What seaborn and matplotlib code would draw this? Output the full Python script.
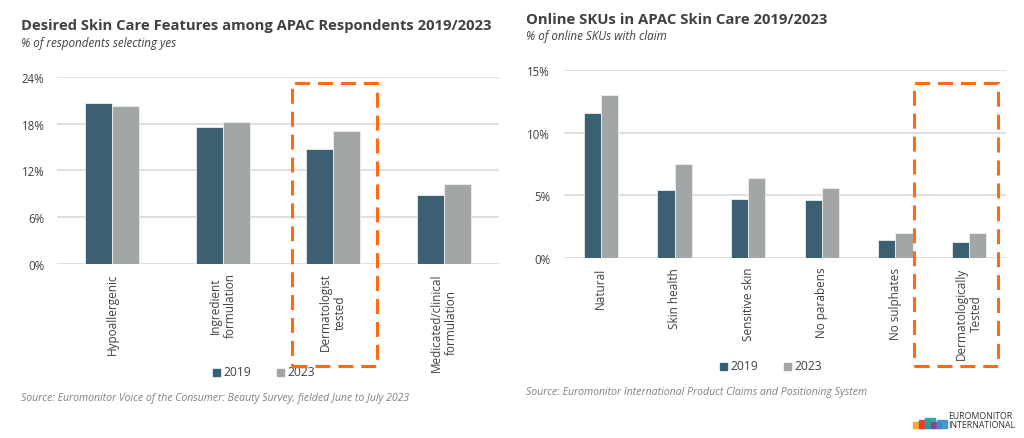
import matplotlib
matplotlib.use("Agg")
import matplotlib.pyplot as plt
import pandas as pd
import seaborn as sns
from matplotlib.patches import Rectangle

sns.set_style("white")
plt.rcParams['font.family'] = ['Open Sans', 'DejaVu Sans']

years = ['2019', '2023']
colors = {'2019': '#32637B', '2023': '#A3A6A7'}

# left chart: consumer survey
left_cats = ['Hypoallergenic', 'Ingredient\nformulation', 'Dermatologist\ntested',
             'Medicated/clinical\nformulation']
left_2019 = [20.6, 17.6, 14.7, 8.9]
left_2023 = [20.3, 18.2, 17.1, 10.2]
left_ticks = [0, 6, 12, 18, 24]

# right chart: online SKUs
right_cats = ['Natural', 'Skin health', 'Sensitive skin', 'No parabens', 'No sulphates',
              'Dermatologically\nTested']
right_2019 = [11.55, 5.45, 4.7, 4.65, 1.45, 1.3]
right_2023 = [13.0, 7.5, 6.4, 5.6, 2.0, 2.0]
right_ticks = [0, 5, 10, 15]


def to_long(cats, v19, v23):
    return pd.DataFrame({
        'cat': cats * 2,
        'year': ['2019'] * len(cats) + ['2023'] * len(cats),
        'value': v19 + v23,
    })


def draw_panel(ax, data, ticks, width, ypad):
    sns.barplot(data=data, x='cat', y='value', hue='year', palette=colors,
                width=width, gap=0, edgecolor='#EEEEEE', linewidth=0.6,
                ax=ax, legend=False, zorder=3)
    ax.set_ylim(0, ticks[-1])
    ax.set_yticks(ticks)
    ax.set_yticklabels([f'{t}%' for t in ticks], fontsize=8.3, color='#404040')
    ax.set_xticks(range(data['cat'].nunique()))
    ax.set_xticklabels(data['cat'].unique(), rotation=90, fontsize=8.5, color='#404040',
                       va='top', ha='center', multialignment='center')
    ax.tick_params(axis='x', length=0, pad=6)
    ax.tick_params(axis='y', length=0, pad=ypad)
    ax.set_xlabel('')
    ax.set_ylabel('')
    for s in ax.spines.values():
        s.set_visible(False)
    ax.grid(axis='y', color='#D9D9D9', linewidth=1.2, zorder=0)
    ax.set_axisbelow(True)


fig = plt.figure(figsize=(10.24, 4.39), dpi=100)

ax1 = fig.add_axes([0.0557, 0.3964, 0.4316, 0.426])
draw_panel(ax1, to_long(left_cats, left_2019, left_2023), left_ticks, 0.49, 9)

ax2 = fig.add_axes([0.5508, 0.4093, 0.4316, 0.4296])
draw_panel(ax2, to_long(right_cats, right_2019, right_2023), right_ticks, 0.47, 10)

# titles
fig.text(21 / 1024, 1 - 30 / 439, 'Desired Skin Care Features among APAC Respondents 2019/2023',
         fontsize=10.65, fontweight='bold', color='#404040')
fig.text(21 / 1024, 1 - 47 / 439, '% of respondents selecting yes',
         fontsize=8.4, style='italic', color='#404040')
fig.text(526 / 1024, 1 - 24 / 439, 'Online SKUs in APAC Skin Care 2019/2023',
         fontsize=10.7, fontweight='bold', color='#404040')
fig.text(526 / 1024, 1 - 40 / 439, '% of online SKUs with claim',
         fontsize=8.4, style='italic', color='#404040')

# legends
for x0, y0 in [(213, 373), (720, 367)]:
    for i, yr in enumerate(years):
        xx = x0 + i * 64
        fig.patches.append(Rectangle((xx / 1024, 1 - (y0 + 4) / 439), 7 / 1024, 7 / 439,
                                     transform=fig.transFigure, color=colors[yr]))
        fig.text((xx + 10) / 1024, 1 - y0 / 439, yr, fontsize=8.7, color='#404040', va='center')

# sources
fig.text(21 / 1024, 1 - 399 / 439, 'Source: Euromonitor Voice of the Consumer: Beauty Survey, fielded June to July 2023',
         fontsize=7.6, style='italic', color='#808080', va='center')
fig.text(526 / 1024, 1 - 393 / 439, 'Source: Euromonitor International Product Claims and Positioning System',
         fontsize=7.6, style='italic', color='#808080', va='center')

# highlight boxes
for x0, x1 in [(292, 377), (914, 998)]:
    fig.patches.append(Rectangle((x0 / 1024, 1 - 367 / 439), (x1 - x0) / 1024, (367 - 84) / 439,
                                 transform=fig.transFigure, fill=False, edgecolor='#FF6A13',
                                 linewidth=2.2, linestyle=(0, (4.9, 2.6)), zorder=10))

# logo
logo_cols = ['#F7A21B', '#E5352B', '#1BA39C', '#8E3E97', '#3C8DCB']
for i, c in enumerate(logo_cols):
    fig.patches.append(Rectangle(((913 + i * 6) / 1024, 1 - 429 / 439), 10 / 1024, (6 + (i % 3) * 2) / 439,
                                 transform=fig.transFigure, color=c, alpha=0.9))
fig.text(948 / 1024, 1 - 417 / 439, 'EUROMONITOR', fontsize=6.3, color='#333333', va='center')
fig.text(948 / 1024, 1 - 426 / 439, 'INTERNATIONAL', fontsize=6.3, color='#333333', va='center')

fig.savefig('out.png', dpi=100)
